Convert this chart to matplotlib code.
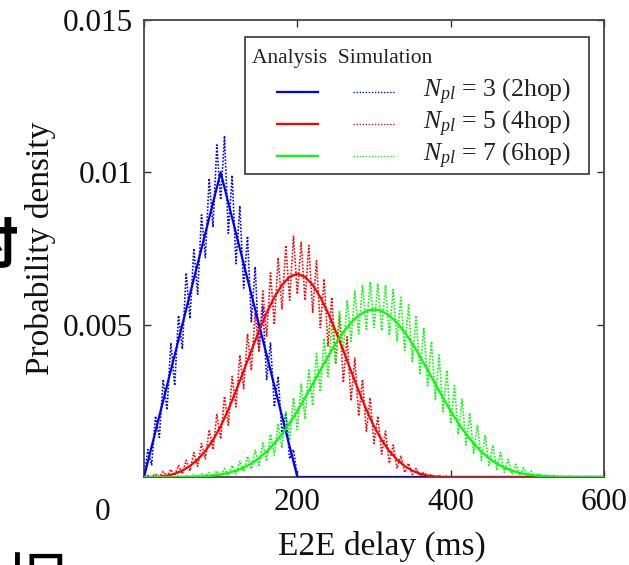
import numpy as np
import matplotlib
matplotlib.use("Agg")
import matplotlib.pyplot as plt
from matplotlib.patches import Rectangle
from matplotlib.lines import Line2D

plt.rcParams['font.family'] = ['Liberation Serif', 'Noto Sans CJK SC', 'DejaVu Sans']
plt.rcParams['mathtext.fontset'] = 'custom'
plt.rcParams['mathtext.rm'] = 'Liberation Serif'
plt.rcParams['mathtext.it'] = 'Liberation Serif:italic'

# ---------------- data (density values in units of 1e-3) ----------------
x_ana = np.arange(0, 610, 10)          # ms
x_sim = np.arange(0, 605, 5)           # ms

ana_2hop = [0, 1, 2, 3, 4, 5, 6, 7, 8, 9, 10, 9, 8, 7, 6, 5, 4, 3, 2, 1, 0] + [0] * 40
ana_4hop = [0, 0.002, 0.013, 0.045, 0.107, 0.208, 0.36, 0.572, 0.853, 1.215,
            1.667, 2.212, 2.827, 3.482, 4.147, 4.792, 5.387, 5.902, 6.307, 6.572,
            6.667, 6.572, 6.307, 5.902, 5.387, 4.792, 4.147, 3.482, 2.827, 2.212,
            1.667, 1.215, 0.853, 0.572, 0.36, 0.208, 0.107, 0.045, 0.013, 0.002,
            0] + [0] * 20
ana_6hop = [0, 0, 0, 0, 0.001, 0.003, 0.006, 0.014, 0.027, 0.049,
            0.083, 0.134, 0.207, 0.308, 0.443, 0.617, 0.835, 1.099, 1.411, 1.768,
            2.167, 2.598, 3.051, 3.510, 3.959, 4.380, 4.755, 5.068, 5.304, 5.450,
            5.5,
            5.450, 5.304, 5.068, 4.755, 4.380, 3.959, 3.510, 3.051, 2.598, 2.167,
            1.768, 1.411, 1.099, 0.835, 0.617, 0.443, 0.308, 0.207, 0.134, 0.083,
            0.049, 0.027, 0.014, 0.006, 0.003, 0.001, 0, 0, 0, 0]

sim_2hop = [0.0, 0.9, 0.4, 2.0, 1.3, 3.2, 2.2, 4.4, 3.0, 5.3,
            4.2, 6.7, 5.2, 7.5, 6.0, 8.6, 7.2, 9.8, 8.2, 10.9,
            9.1, 11.2, 8.0, 9.9, 7.0, 8.9, 6.2, 7.9, 5.1, 6.9,
            4.2, 5.6, 3.2, 4.4, 2.3, 3.3, 1.4, 2.1, 0.6, 0.9,
            0.0] + [0] * 80
sim_4hop = [0, 0.05, 0, 0.1, 0, 0.18, 0.02, 0.25, 0.05, 0.38,
            0.1, 0.55, 0.2, 0.80, 0.35, 1.10, 0.60, 1.55, 0.90, 2.05,
            1.25, 2.65, 1.70, 3.30, 2.30, 4.00, 2.90, 4.70, 3.50, 5.40,
            4.10, 6.10, 4.60, 6.70, 5.00, 7.20, 5.50, 7.60, 5.80, 7.90,
            6.00, 7.70, 5.80, 7.60, 5.40, 7.10, 4.90, 6.50, 4.30, 5.90,
            3.70, 5.30, 3.10, 4.60, 2.50, 3.90, 2.00, 3.20, 1.50, 2.60,
            1.10, 2.00, 0.75, 1.50, 0.45, 1.05, 0.28, 0.70, 0.15, 0.45,
            0.08, 0.28, 0.03, 0.15, 0.01, 0.08, 0, 0.04, 0, 0.02,
            0] + [0] * 40
sim_6hop = [0, 0, 0, 0.01, 0, 0.02, 0, 0.02, 0, 0.04,
            0, 0.05, 0.01, 0.08, 0.01, 0.10, 0.02, 0.15, 0.03, 0.20,
            0.03, 0.28, 0.06, 0.38, 0.10, 0.52, 0.17, 0.68, 0.26, 0.88,
            0.38, 1.12, 0.52, 1.40, 0.72, 1.75, 0.95, 2.15, 1.20, 2.60,
            1.55, 3.05, 1.90, 3.55, 2.35, 4.05, 2.80, 4.55, 3.30, 5.00,
            3.75, 5.45, 4.10, 5.80, 4.45, 6.10, 4.70, 6.30, 4.85, 6.40,
            4.90, 6.35, 4.80, 6.30, 4.65, 6.15, 4.45, 5.90, 4.15, 5.65,
            3.80, 5.30, 3.40, 4.90, 3.00, 4.45, 2.55, 4.00, 2.15, 3.50,
            1.75, 3.00, 1.40, 2.55, 1.05, 2.10, 0.78, 1.70, 0.55, 1.35,
            0.38, 1.05, 0.25, 0.80, 0.15, 0.58, 0.09, 0.42, 0.05, 0.30,
            0.02, 0.20, 0.01, 0.12, 0, 0.08, 0, 0.05, 0, 0.03,
            0, 0.02, 0, 0.01, 0, 0, 0, 0, 0, 0,
            0]

labels = [r'$N_{pl}$ = 3 (2hop)', r'$N_{pl}$ = 5 (4hop)', r'$N_{pl}$ = 7 (6hop)']
colors = ['#0000FF', '#FF0000', '#00FF00']
x_ticks = [0, 200, 400, 600]
x_ticklabels = ['', '200', '400', '600']
y_ticks = [0.005, 0.01, 0.015]
y_ticklabels = ['0.005', '0.01', '0.015']

# ---------------- figure ----------------
fig = plt.figure(figsize=(6.29, 5.65), dpi=100)
ax = fig.add_axes([144 / 629, 88 / 565, 460 / 629, 457 / 565])

scale = 1e-3
for ys, c in zip([sim_2hop, sim_4hop, sim_6hop], colors):
    ax.plot(x_sim, np.array(ys) * scale, color=c, lw=1.2,
            linestyle=(0, (1, 1.0)), zorder=2)
for ys, c in zip([ana_2hop, ana_4hop, ana_6hop], colors):
    ax.plot(x_ana, np.array(ys) * scale, color=c, lw=1.6, zorder=3)

ax.set_xlim(0, 600)
ax.set_ylim(0, 0.015)
ax.set_xticks(x_ticks)
ax.set_xticklabels(x_ticklabels)
ax.set_yticks(y_ticks)
ax.set_yticklabels(y_ticklabels)
ax.tick_params(direction='in', length=5, width=1.0, color='#333333',
               top=True, right=True, labelsize=22.5, labelcolor='#111111')
ax.tick_params(axis='x', pad=8)
ax.tick_params(axis='y', pad=8)
for s in ax.spines.values():
    s.set_color('#444444')
    s.set_linewidth(1.3)

ax.set_xlabel('E2E delay (ms)', fontsize=24, color='#111111')
ax.xaxis.set_label_coords(0.518, -0.118)
ax.set_ylabel('Probability density', fontsize=24, color='#111111', labelpad=5)
# the detached "0" label at the lower-left corner
fig.text(103 / 629, 1 - 512 / 565, '0', fontsize=22.5, color='#111111',
         ha='center', va='center')

# ---------------- legend (drawn manually) ----------------
ax.add_patch(Rectangle((0.2196, 0.663), 0.7474, 0.300, transform=ax.transAxes,
                       fill=True, facecolor='white', edgecolor='#444444',
                       lw=1.3, zorder=5))
ax.text(0.235, 0.906, 'Analysis  Simulation', transform=ax.transAxes,
        fontsize=15.5, color='#222222', va='baseline', ha='left', zorder=6)
rows_y = [0.842, 0.772, 0.702]
for yy, c, lab in zip(rows_y, colors, labels):
    ax.add_line(Line2D([0.289, 0.378], [yy, yy], transform=ax.transAxes,
                       color=c, lw=1.6, zorder=6))
    ax.add_line(Line2D([0.454, 0.543], [yy, yy], transform=ax.transAxes,
                       color=c, lw=1.0, linestyle=(0, (1, 1.2)), zorder=6))
    ax.text(0.607, yy, lab, transform=ax.transAxes, fontsize=18.5,
            color='#222222', va='center', ha='left', zorder=6)

# cropped fragments of surrounding page text
fig.text(18 / 629, 1 - 248 / 565, '时', fontsize=40, family=['Noto Sans CJK SC'],
         ha='right', va='center', color='black', fontweight='bold')
fig.text(8 / 629, 1 - 553 / 565, '旧', fontsize=44, family=['Noto Sans CJK SC'],
         ha='left', va='top', color='black')

fig.savefig('out.png', dpi=100)
